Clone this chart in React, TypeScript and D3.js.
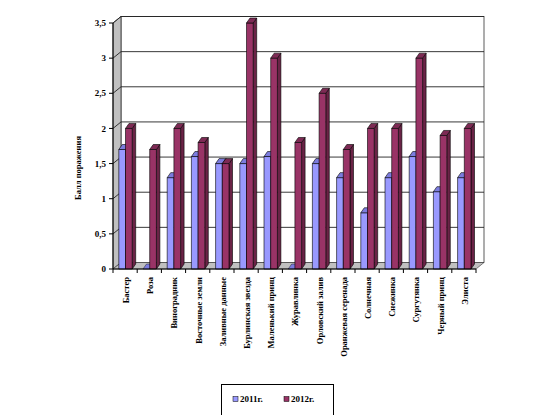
import React from "react";
import * as d3 from "d3";

const categories = [
  "Бастер",
  "Роза",
  "Виноградник",
  "Восточные земли",
  "Заливные данные",
  "Бурлинская звезда",
  "Маленький принц",
  "Журавлинка",
  "Орловский залив",
  "Оранжевая серенада",
  "Солнечная",
  "Снежинка",
  "Сургутянка",
  "Черный принц",
  "Элиста",
];
const values2011 = [1.7, 0, 1.3, 1.6, 1.5, 1.5, 1.6, 0, 1.5, 1.3, 0.8, 1.3, 1.6, 1.1, 1.3];
const values2012 = [2.0, 1.7, 2.0, 1.8, 1.5, 3.5, 3.0, 1.8, 2.5, 1.7, 2.0, 2.0, 3.0, 1.9, 2.0];
const yTicks = [0, 0.5, 1, 1.5, 2, 2.5, 3, 3.5];
const seriesNames = ["2011г.", "2012г."];
const yTitle = "Балл поражения";

const W = 552;
const H = 415;
const X0 = 113;
const X1 = 476;
const Y0 = 269;
const Y1 = 23;
const WDX = 8;
const WDY = -6.5;
const BDX = 3.5;
const BDY = -5;
const FONT = "'Liberation Serif', 'DejaVu Serif', serif";

const colors = [
  { front: "#9999FF", side: "#6A6AC4", top: "#7C7CDE" },
  { front: "#993366", side: "#6A2346", top: "#7D2A54" },
];

const fmt = (v: number) => String(v).replace(".", ",");

export default function App() {
  const x = d3.scaleBand<string>().domain(categories).range([X0, X1]).paddingInner(0).paddingOuter(0);
  const y = d3.scaleLinear().domain([0, 3.5]).range([Y0, Y1]);
  const bw = x.bandwidth();
  const barW = 6.7;
  const barOff = 5.8;

  const poly = (pts: [number, number][]) => pts.map((p) => p.join(",")).join(" ");

  const bars: React.ReactNode[] = [];
  categories.forEach((c, i) => {
    [values2011[i], values2012[i]].forEach((v, s) => {
      const bx = (x(c) as number) + barOff + s * barW;
      const by = y(v);
      const col = colors[s];
      const key = `${i}-${s}`;
      if (v > 0) {
        bars.push(
          <g key={key} stroke="#000" strokeWidth={0.6} strokeLinejoin="round">
            <polygon
              points={poly([
                [bx + barW, by],
                [bx + barW + BDX, by + BDY],
                [bx + barW + BDX, Y0 + BDY],
                [bx + barW, Y0],
              ])}
              fill={col.side}
            />
            <rect x={bx} y={by} width={barW} height={Y0 - by} fill={col.front} />
            <polygon
              points={poly([
                [bx, by],
                [bx + BDX, by + BDY],
                [bx + barW + BDX, by + BDY],
                [bx + barW, by],
              ])}
              fill={col.top}
            />
          </g>
        );
      } else {
        bars.push(
          <polygon
            key={key}
            points={poly([
              [bx, Y0],
              [bx + BDX, Y0 + BDY],
              [bx + barW + BDX, Y0 + BDY],
              [bx + barW, Y0],
            ])}
            fill={col.top}
            stroke="#000"
            strokeWidth={0.4}
          />
        );
      }
    });
  });

  return (
    <svg
      width={W}
      height={H}
      style={{ position: "fixed", left: 0, top: 0, background: "#fff" }}
      fontFamily={FONT}
    >
      {/* back wall */}
      <rect x={X0 + WDX} y={Y1 + WDY} width={X1 - X0} height={Y0 - Y1} fill="#fff" stroke="#333" strokeWidth={0.8} />
      {/* left wall */}
      <polygon
        points={poly([
          [X0, Y0],
          [X0, Y1],
          [X0 + WDX, Y1 + WDY],
          [X0 + WDX, Y0 + WDY],
        ])}
        fill="#C0C0C0"
        stroke="#333"
        strokeWidth={0.8}
      />
      {/* floor */}
      <polygon
        points={poly([
          [X0, Y0],
          [X1, Y0],
          [X1 + WDX, Y0 + WDY],
          [X0 + WDX, Y0 + WDY],
        ])}
        fill="#C0C0C0"
        stroke="#333"
        strokeWidth={0.6}
      />
      {/* gridlines */}
      {yTicks.slice(1).map((t) => (
        <g key={t} stroke="#222" strokeWidth={0.9} fill="none">
          <polyline
            points={poly([
              [X0, y(t)],
              [X0 + WDX, y(t) + WDY],
              [X1 + WDX, y(t) + WDY],
            ])}
          />
        </g>
      ))}
      {bars}
      {/* y axis */}
      <line x1={X0} x2={X0} y1={Y0} y2={Y1} stroke="#000" strokeWidth={1} />
      {yTicks.map((t) => (
        <g key={t}>
          <line x1={X0 - 4} x2={X0} y1={y(t)} y2={y(t)} stroke="#000" />
          <text x={X0 - 7} y={y(t)} dy="0.35em" textAnchor="end" fontSize={9} fontWeight="bold">
            {fmt(t)}
          </text>
        </g>
      ))}
      {/* x axis */}
      <line x1={X0} x2={X1} y1={Y0} y2={Y0} stroke="#000" strokeWidth={1} />
      {[...categories.map((c) => x(c) as number), X1].map((tx, i) => (
        <line key={i} x1={tx} x2={tx} y1={Y0} y2={Y0 + 4} stroke="#000" />
      ))}
      {categories.map((c) => {
        const cx = (x(c) as number) + bw / 2 + 1;
        return (
          <text
            key={c}
            transform={`translate(${cx},${Y0 + 8}) rotate(-90)`}
            textAnchor="end"
            dy="0.35em"
            fontSize={8.5}
            fontWeight="bold"
          >
            {c}
          </text>
        );
      })}
      {/* y title */}
      <text
        transform={`translate(78,${(Y0 + Y1) / 2 + 22}) rotate(-90)`}
        textAnchor="middle"
        dy="0.35em"
        fontSize={8.5}
        fontWeight="bold"
      >
        {yTitle}
      </text>
      {/* legend */}
      <rect x={221.5} y={384.5} width={112} height={34} fill="#fff" stroke="#000" strokeWidth={1} />
      {seriesNames.map((n, i) => (
        <g key={n} transform={`translate(${233 + i * 51},399)`}>
          <rect x={0} y={-2.5} width={5} height={5} fill={colors[i].front} stroke="#000" strokeWidth={0.5} />
          <text x={7} y={0} dy="0.35em" fontSize={9} fontWeight="bold">
            {n}
          </text>
        </g>
      ))}
    </svg>
  );
}
